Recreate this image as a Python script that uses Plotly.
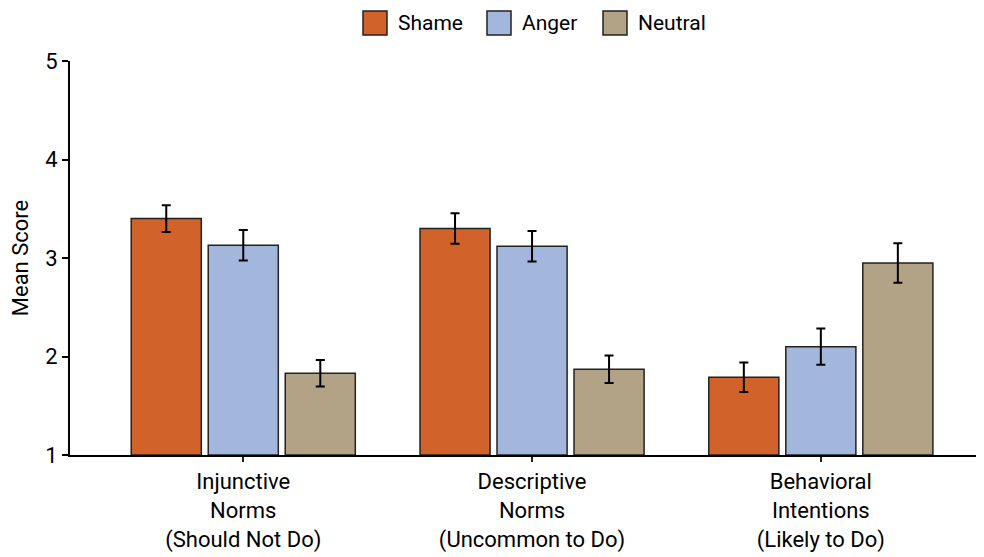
import plotly.graph_objects as go

categories = ["Injunctive<br>Norms<br>(Should Not Do)",
              "Descriptive<br>Norms<br>(Uncommon to Do)",
              "Behavioral<br>Intentions<br>(Likely to Do)"]
series_names = ["Shame", "Anger", "Neutral"]
shame = [3.40, 3.30, 1.79]
anger = [3.13, 3.12, 2.10]
neutral = [1.83, 1.87, 2.95]
shame_err = [0.135, 0.155, 0.15]
anger_err = [0.155, 0.155, 0.185]
neutral_err = [0.135, 0.14, 0.20]
colors = ["#D1622A", "#A3B6DC", "#B2A387"]
y_ticks = [1, 2, 3, 4, 5]

FONT = "Roboto, Liberation Sans, sans-serif"

fig = go.Figure()
for name, vals, errs, col in zip(series_names, [shame, anger, neutral],
                                 [shame_err, anger_err, neutral_err], colors):
    fig.add_trace(go.Bar(
        x=categories, y=[v - 1 for v in vals], base=1, name=name,
        marker=dict(color=col, line=dict(color="#222222", width=1.5)),
        error_y=dict(type="data", array=errs, color="black", thickness=2, width=4.5),
        showlegend=False,
    ))

# custom legend (larger squares as in the reference); positions relative to plot area
W, H = 914, 394
leg_x = [363, 487, 603]
text_x = [396, 520, 636]
for nm, col, sx, tx in zip(series_names, colors, leg_x, text_x):
    fig.add_shape(type="rect", xref="paper", yref="paper",
                  x0=(sx - 70) / W, x1=(sx + 24 - 70) / W,
                  y0=(455 - 35) / H, y1=(455 - 11) / H,
                  fillcolor=col, line=dict(color="#222222", width=1.5))
    fig.add_annotation(xref="paper", yref="paper", x=(tx - 70) / W, y=(455 - 23) / H,
                       text=nm, showarrow=False, xanchor="left", yanchor="middle",
                       font=dict(family=FONT, size=21, color="black"))

fig.update_layout(
    width=976, height=549,
    margin=dict(l=62, r=0, t=53, b=102),
    paper_bgcolor="white", plot_bgcolor="white",
    barmode="group", bargap=0.2, bargroupgap=0.09,
    font=dict(family=FONT, size=21, color="black"),
    xaxis=dict(range=[-0.6, 2.565], showline=True, linecolor="black", linewidth=2,
               ticks="outside", ticklen=5, tickwidth=2, tickcolor="#222",
               ticklabelstandoff=1,
               tickfont=dict(size=22, color="black"), showgrid=False, zeroline=False),
    yaxis=dict(range=[1, 5], tickvals=y_ticks, showline=True, linecolor="black", linewidth=2,
               ticks="outside", ticklen=6, tickwidth=2, tickcolor="black",
               tickfont=dict(size=22, color="black"), showgrid=False, zeroline=False,
               title=dict(text="Mean Score", font=dict(size=22, color="black"), standoff=12)),
)

fig.write_html("out.html")
